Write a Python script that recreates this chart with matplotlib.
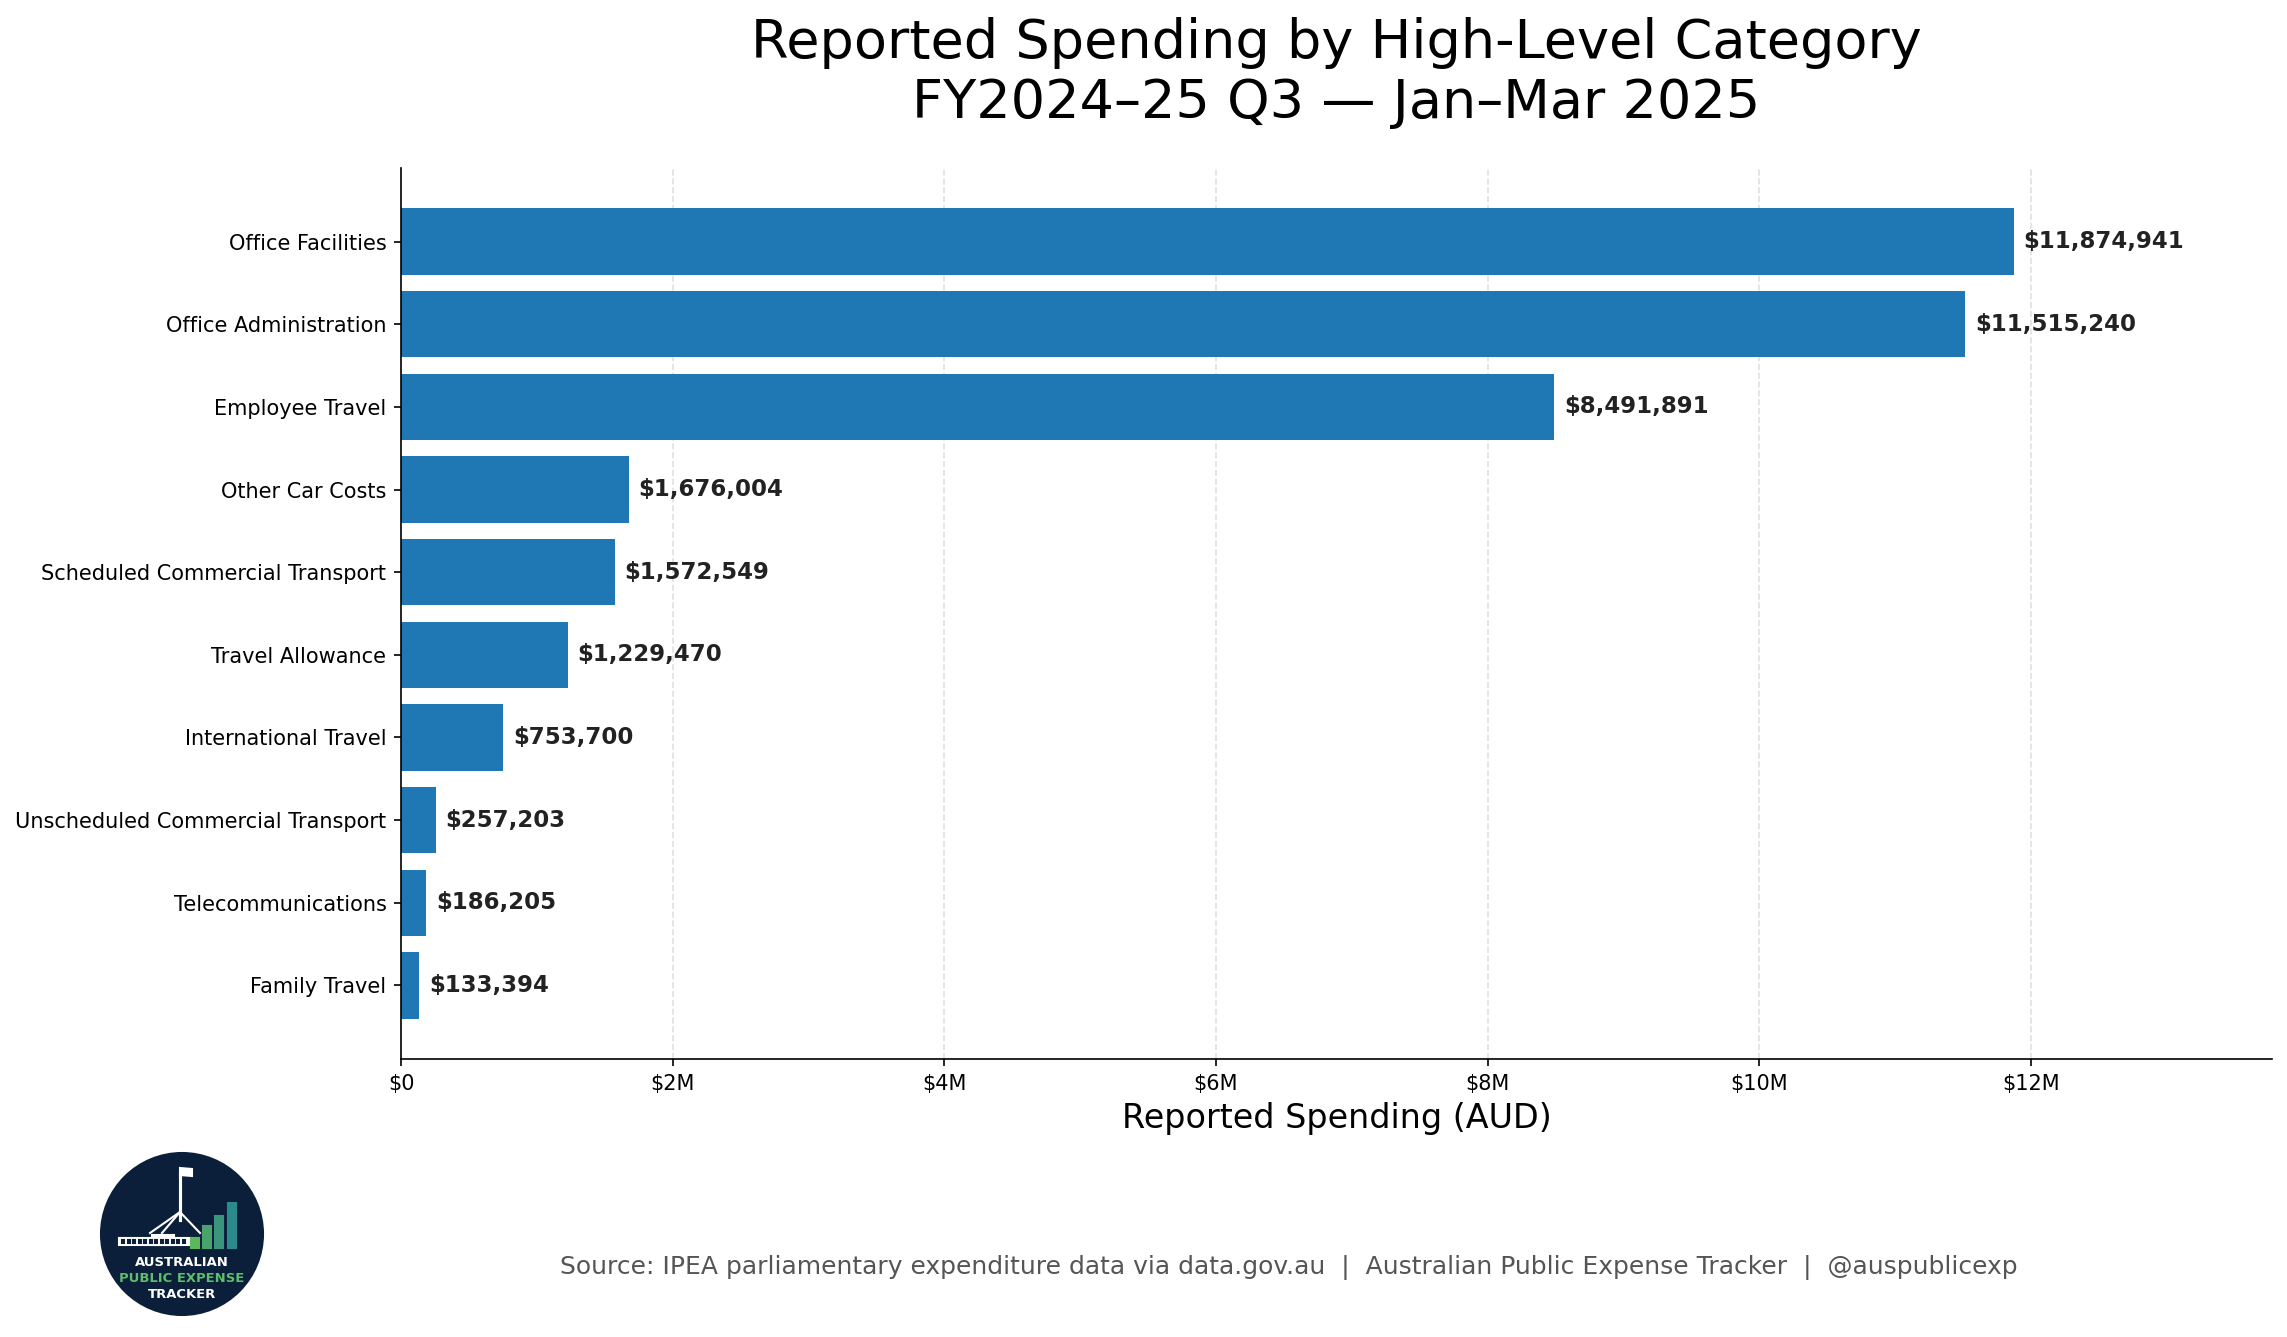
import matplotlib
matplotlib.use("Agg")
import matplotlib.pyplot as plt
import matplotlib.ticker as ticker
from matplotlib.patches import Circle, Rectangle, Polygon

categories = [
    "Office Facilities",
    "Office Administration",
    "Employee Travel",
    "Other Car Costs",
    "Scheduled Commercial Transport",
    "Travel Allowance",
    "International Travel",
    "Unscheduled Commercial Transport",
    "Telecommunications",
    "Family Travel",
]
spending = [11874941, 11515240, 8491891, 1676004, 1572549,
            1229470, 753700, 257203, 186205, 133394]

title = "Reported Spending by High-Level Category\nFY2024\u201325 Q3 \u2014 Jan\u2013Mar 2025"
source = ("Source: IPEA parliamentary expenditure data via data.gov.au  |  "
          "Australian Public Expense Tracker  |  @auspublicexp")

W, H, DPI = 2287, 1337, 150
fig = plt.figure(figsize=(W / DPI, H / DPI), dpi=DPI)
ax = fig.add_axes([401 / W, 1 - 1059 / H, (2272 - 401) / W, (1059 - 168) / H])

bar_color = "#1f77b4"
ax.barh(categories, spending, color=bar_color, height=0.8)
ax.invert_yaxis()
ax.set_xlim(0, max(spending) * 1.16)

for i, v in enumerate(spending):
    ax.text(v + max(spending) * 0.006, i, f"${v:,.0f}", va="center", ha="left",
            fontsize=11, fontweight="bold", color="#222222")

ax.xaxis.set_major_locator(ticker.MultipleLocator(2e6))
ax.xaxis.set_major_formatter(ticker.FuncFormatter(
    lambda x, _: "$0" if x == 0 else f"${x / 1e6:.0f}M"))
ax.tick_params(axis="both", labelsize=10)
ax.grid(axis="x", linestyle="--", color="#cccccc", alpha=0.6, linewidth=0.8)
ax.set_axisbelow(True)
ax.spines["top"].set_visible(False)
ax.spines["right"].set_visible(False)
ax.set_xlabel("Reported Spending (AUD)", fontsize=16)
ax.set_title(title, fontsize=26, pad=24)

fig.text(1289 / W, 1 - 1267 / H, source, ha="center", va="center",
         fontsize=12, color="#555555")

# logo
lx, ly, r = 182, 1234, 85
lax = fig.add_axes([(lx - r) / W, 1 - (ly + r) / H, 2 * r / W, 2 * r / H])
lax.set_xlim(-85, 85)
lax.set_ylim(-85, 85)
lax.axis("off")
lax.add_patch(Circle((0, 0), 81, color="#0b1f3a"))
lax.plot([-2, -2], [14, 60], color="white", lw=1.5)
lax.add_patch(Polygon([[-2, 66], [10, 65], [10, 58], [-2, 59]], color="white"))
for ex in [-32, -20, 18]:
    lax.plot([-2, ex], [22, 1], color="white", lw=1)
lax.add_patch(Rectangle((-63, -11), 73, 7, color="white"))
lax.add_patch(Rectangle((-30, -11), 22, 10, color="white"))
for k in range(12):
    lax.add_patch(Rectangle((-60 + k * 5.5, -9), 2.2, 3, color="#0b1f3a"))
bar_cols = ["#5cb85c", "#4aa36d", "#3b957c", "#2c8a8a"]
bar_x = [9, 21, 33, 46]
bar_h = [10, 22, 32, 45]
for bx, bh, bc in zip(bar_x, bar_h, bar_cols):
    lax.add_patch(Rectangle((bx, -14), 8, bh, color=bc))
lax.text(0, -29, "AUSTRALIAN", ha="center", va="center", color="white",
         fontsize=6.3, fontweight="bold")
lax.text(0, -45, "PUBLIC EXPENSE", ha="center", va="center", color="#5cc06a",
         fontsize=6.3, fontweight="bold")
lax.text(0, -61, "TRACKER", ha="center", va="center", color="white",
         fontsize=6.3, fontweight="bold")

fig.savefig("out.png", dpi=DPI)
